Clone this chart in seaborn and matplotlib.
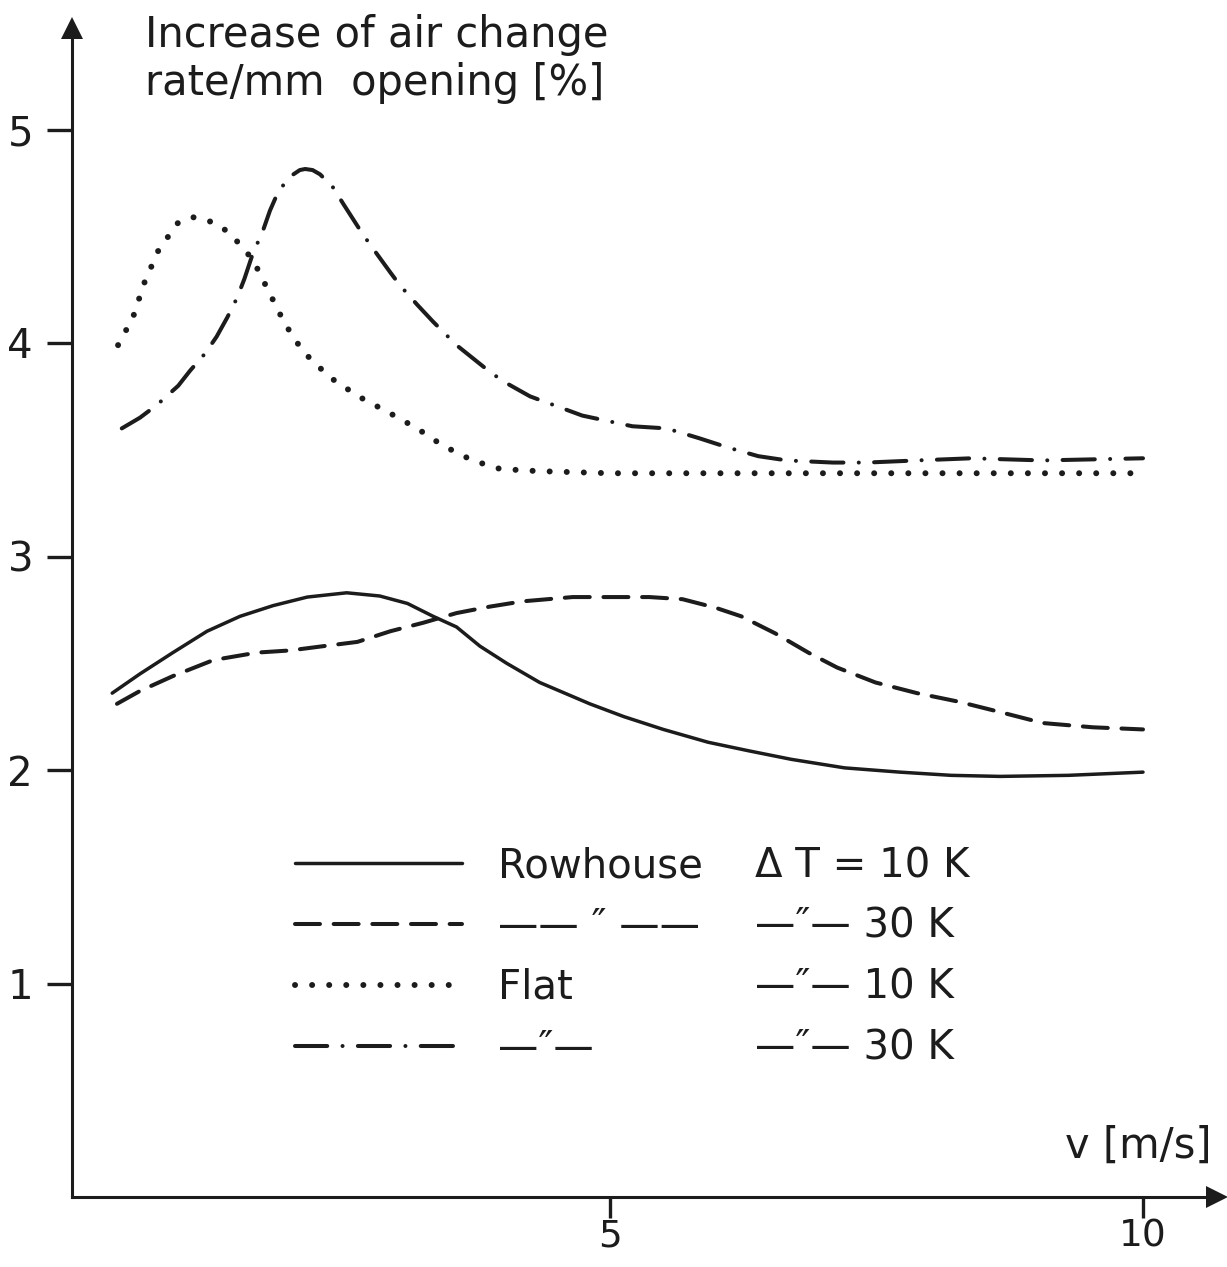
import matplotlib
matplotlib.use("Agg")
import matplotlib.pyplot as plt
import seaborn as sns

# ---------------- data ----------------
row10_v = [0.33, 0.59, 0.90, 1.22, 1.53, 1.84, 2.16, 2.53, 2.84, 3.10, 3.34, 3.56, 3.78,
           4.03, 4.34, 4.81, 5.13, 5.50, 5.92, 6.30, 6.70, 7.20, 7.72, 8.20, 8.66, 9.30, 10.0]
row10_y = [2.36, 2.45, 2.55, 2.65, 2.72, 2.77, 2.81, 2.83, 2.815, 2.78, 2.72, 2.67, 2.58,
           2.50, 2.41, 2.31, 2.25, 2.19, 2.13, 2.09, 2.05, 2.01, 1.99, 1.975, 1.97, 1.975, 1.99]

row30_v = [0.375, 0.59, 0.90, 1.28, 1.69, 2.00, 2.31, 2.63, 2.94, 3.25, 3.56, 3.87, 4.18,
           4.65, 5.05, 5.37, 5.68, 5.99, 6.23, 6.55, 6.86, 7.13, 7.49, 7.88, 8.27, 8.67,
           9.06, 9.53, 10.0]
row30_y = [2.31, 2.37, 2.44, 2.515, 2.55, 2.56, 2.58, 2.60, 2.65, 2.69, 2.735, 2.765, 2.79,
           2.81, 2.81, 2.81, 2.80, 2.76, 2.72, 2.64, 2.55, 2.48, 2.41, 2.36, 2.32, 2.27,
           2.22, 2.20, 2.19]

flat10_v = [0.385, 0.525, 0.63, 0.76, 0.94, 1.08, 1.22, 1.34, 1.46, 1.65, 1.81, 1.95, 2.12,
            2.37, 2.64, 2.94, 3.19, 3.43, 3.71, 3.97, 4.32, 5.0, 6.0, 7.0, 8.0, 9.0, 10.0]
flat10_y = [3.99, 4.12, 4.28, 4.43, 4.56, 4.59, 4.575, 4.55, 4.50, 4.39, 4.23, 4.09, 3.96,
            3.84, 3.75, 3.67, 3.60, 3.52, 3.45, 3.41, 3.40, 3.39, 3.39, 3.39, 3.39, 3.39, 3.39]

flat30_v = [0.42, 0.59, 0.75, 0.95, 1.06, 1.20, 1.31, 1.41, 1.50, 1.57, 1.65, 1.74, 1.81,
            1.88, 1.95, 2.03, 2.09, 2.14, 2.21, 2.28, 2.40, 2.50, 2.59, 2.68, 2.78, 2.94,
            3.03, 3.19, 3.34, 3.56, 3.71, 3.86, 4.00, 4.25, 4.74, 5.21, 5.53, 5.83, 6.11,
            6.39, 6.66, 7.09, 7.41, 7.88, 8.39, 9.06, 10.0]
flat30_y = [3.60, 3.65, 3.71, 3.80, 3.87, 3.95, 4.03, 4.12, 4.21, 4.30, 4.42, 4.52, 4.62,
            4.70, 4.75, 4.79, 4.81, 4.815, 4.81, 4.79, 4.73, 4.65, 4.58, 4.51, 4.44, 4.33,
            4.27, 4.18, 4.10, 3.99, 3.93, 3.87, 3.82, 3.75, 3.66, 3.61, 3.60, 3.555, 3.51,
            3.47, 3.45, 3.44, 3.44, 3.45, 3.46, 3.45, 3.46]

x_ticks = [5, 10]
y_ticks = [1, 2, 3, 4, 5]
legend_col2 = ["Rowhouse", "—— \u2033 ——", "Flat", "—\u2033—"]
legend_col3 = ["\u0394 T = 10 K", "—\u2033— 30 K", "—\u2033— 10 K", "—\u2033— 30 K"]
title_lines = ["Increase of air change", "rate/mm  opening [%]"]
x_label = "v [m/s]"

# ---------------- style ----------------
sns.set_theme(style="white")
plt.rcParams['font.family'] = ['DejaVu Sans']
INK = "#1c1c1c"
FS = 29

W, H = 1227, 1267
fig = plt.figure(figsize=(W / 100, H / 100), dpi=100)
fig.patch.set_facecolor("white")
ax = fig.add_axes([72 / W, 70 / H, 1145 / W, 1169 / H])
ax.set_facecolor("white")

series = [
    (row10_v, row10_y, None, 2.5, "butt"),
    (row30_v, row30_y, (6.2, 3.4), 2.9, "round"),
    (flat10_v, flat10_y, (0.01, 2.85), 4.3, "round"),
    (flat30_v, flat30_y, (8.0, 3.8, 0.01, 3.8), 2.9, "round"),
]
handles = []
for v, y, dash, lw, cap in series:
    sns.lineplot(x=v, y=y, ax=ax, color=INK, lw=lw, sort=False, errorbar=None)
    line = ax.lines[-1]
    if dash is None:
        line.set_linestyle("-")
    else:
        line.set_dashes(dash)
    line.set_dash_capstyle(cap)
    line.set_solid_capstyle("round")
    line.set_solid_joinstyle("round")
    handles.append(line)

ax.set_xlim(-0.047, (1217 - 77) / 106.6)
ax.set_ylim(0, 1169 / 213.5)
ax.set_xticks(x_ticks)
ax.set_yticks(y_ticks)
ax.set_xticklabels([str(t) for t in x_ticks])
ax.set_yticklabels([str(t) for t in y_ticks])
ax.tick_params(axis="both", which="major", direction="out", width=2.4,
               color=INK, labelcolor=INK, bottom=True, left=True)
ax.tick_params(axis="y", length=18, pad=10, labelsize=29)
ax.tick_params(axis="x", length=15, pad=0.5, labelsize=27)
ax.set_xlabel("")
ax.set_ylabel("")
for s in ["top", "right"]:
    ax.spines[s].set_visible(False)
for s in ["left", "bottom"]:
    ax.spines[s].set_linewidth(2.2)
    ax.spines[s].set_color(INK)
ax.grid(False)

# arrowheads at the axis ends
ax.plot([0], [1], marker="^", ms=16, color=INK, transform=ax.transAxes,
        clip_on=False, mew=0)
ax.plot([1], [0], marker=">", ms=16, color=INK, transform=ax.transAxes,
        clip_on=False, mew=0)

# axis titles
fig.text(145 / W, 1 - 47 / H, title_lines[0], fontsize=30, color=INK, va="baseline")
fig.text(145 / W, 1 - 95 / H, title_lines[1], fontsize=30, color=INK, va="baseline")
ax.text((1212 - 72) / 1145, (1197 - 1158) / 1169, x_label, transform=ax.transAxes,
        fontsize=30, color=INK, ha="right", va="baseline")

# legend
leg = ax.legend(handles=handles, labels=legend_col2, loc="upper left",
                bbox_to_anchor=((295 - 72) / 1145, (1197 - 846) / 1169),
                frameon=False, fontsize=FS, handlelength=4.15, handletextpad=0.9,
                labelspacing=0.52, borderpad=0, borderaxespad=0)
for t in leg.get_texts():
    t.set_color(INK)

fig.canvas.draw()
inv = fig.transFigure.inverted()
for t, lab in zip(leg.get_texts(), legend_col3):
    bb = t.get_window_extent()
    y0 = inv.transform((0, bb.y0))[1]
    fig.text(755 / W, y0, lab, fontsize=FS, color=INK, va="bottom", ha="left")

fig.savefig("out.png", dpi=100, facecolor="white")
